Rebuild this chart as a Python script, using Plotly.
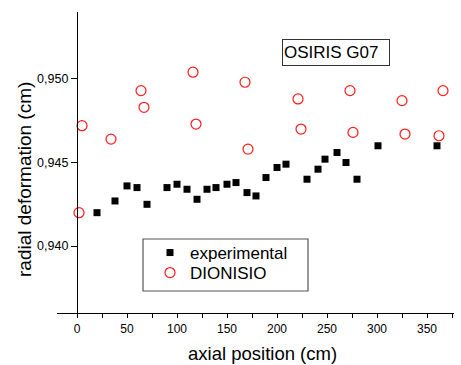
import plotly.graph_objects as go

# Measured radial deformation along the rod (experimental)
exp_x = [20, 38, 50, 60, 70, 90, 100, 110, 120, 130, 139, 150, 159, 170, 179,
         189, 200, 209, 230, 241, 248, 260, 269, 280, 301, 360]
exp_y = [0.9420, 0.9427, 0.9436, 0.9435, 0.9425, 0.9435, 0.9437, 0.9434, 0.9428,
         0.9434, 0.9435, 0.9437, 0.9438, 0.9432, 0.9430, 0.9441, 0.9447, 0.9449,
         0.9440, 0.9446, 0.9452, 0.9456, 0.9450, 0.9440, 0.9460, 0.9460]

# DIONISIO code predictions
dio_x = [2, 5, 34, 64, 67, 116, 119, 168, 171, 221, 224, 273, 276, 325, 328, 362, 366]
dio_y = [0.9420, 0.9472, 0.9464, 0.9493, 0.9483, 0.9504, 0.9473, 0.9498, 0.9458,
         0.9488, 0.9470, 0.9493, 0.9468, 0.9487, 0.9467, 0.9466, 0.9493]

y_ticks = [0.940, 0.945, 0.950]
x_range = [-20, 377]
y_range = [0.936, 0.954]

FONT = "Liberation Sans, Arial, sans-serif"
W, H = 461, 365
ML, MR, MT, MB = 57, 7, 12, 52
PW, PH = W - ML - MR, H - MT - MB


def px_x(p):
    return (p - ML) / PW


def px_y(p):
    return 1 - (p - MT) / PH


fig = go.Figure()
fig.add_trace(go.Scatter(
    x=exp_x, y=exp_y, mode="markers", name="experimental", legend="legend",
    marker=dict(symbol="square", size=7, color="black", line=dict(width=0)),
))
fig.add_trace(go.Scatter(
    x=dio_x, y=dio_y, mode="markers", name="DIONISIO", legend="legend2",
    marker=dict(symbol="circle-open", size=10, color="#ff1a1a", line=dict(width=1.2, color="#ff1a1a")),
))

# y axis crosses at x = 0
y_pos = (0 - x_range[0]) / (x_range[1] - x_range[0])

legend_style = dict(xanchor="left", yanchor="middle", bgcolor="rgba(0,0,0,0)",
                    borderwidth=0, font=dict(size=17, family=FONT))

fig.update_layout(
    width=W, height=H,
    margin=dict(l=ML, r=MR, t=MT, b=MB, pad=0),
    paper_bgcolor="white", plot_bgcolor="white",
    separators=",.",
    font=dict(family=FONT, color="black"),
    showlegend=True,
    legend=dict(x=px_x(150), y=px_y(253), **legend_style),
    legend2=dict(x=px_x(150), y=px_y(273), **legend_style),
    xaxis=dict(
        range=x_range, showgrid=False, zeroline=False,
        showline=True, linecolor="black", linewidth=1.2,
        ticks="outside", ticklen=4, tickwidth=1.2, tickcolor="black",
        tick0=0, dtick=50, tickfont=dict(size=12, family=FONT),
        minor=dict(dtick=25, tick0=0, ticks="outside", ticklen=4, tickwidth=1.2, tickcolor="black"),
    ),
    yaxis=dict(
        range=y_range, showgrid=False, zeroline=False,
        anchor="free", position=y_pos,
        showline=True, linecolor="black", linewidth=1.2,
        ticks="outside", ticklen=6, tickwidth=1.2, tickcolor="black",
        tickvals=y_ticks, tickformat=".3f", tickfont=dict(size=12.5, family=FONT),
    ),
    shapes=[
        dict(type="rect", xref="paper", yref="paper",
             x0=px_x(143), x1=px_x(308), y0=px_y(291), y1=px_y(239),
             line=dict(color="#555555", width=1.2), fillcolor="rgba(0,0,0,0)", layer="below"),
    ],
    annotations=[
        dict(text="axial position (cm)", xref="paper", yref="paper",
             x=px_x(262), y=px_y(354), xanchor="center", yanchor="middle",
             showarrow=False, font=dict(size=18.5, family=FONT)),
        dict(text="radial deformation (cm)", xref="paper", yref="paper",
             x=px_x(24), y=px_y(180), xanchor="center", yanchor="middle",
             textangle=-90, showarrow=False, font=dict(size=19, family=FONT)),
        dict(text="OSIRIS G07", xref="paper", yref="paper",
             x=px_x(282), y=px_y(39), xanchor="left", yanchor="top",
             width=104, height=23, align="left", valign="middle",
             bordercolor="#333333", borderwidth=1, borderpad=1,
             showarrow=False, font=dict(size=17, family=FONT)),
    ],
)

fig.write_html("out.html")
